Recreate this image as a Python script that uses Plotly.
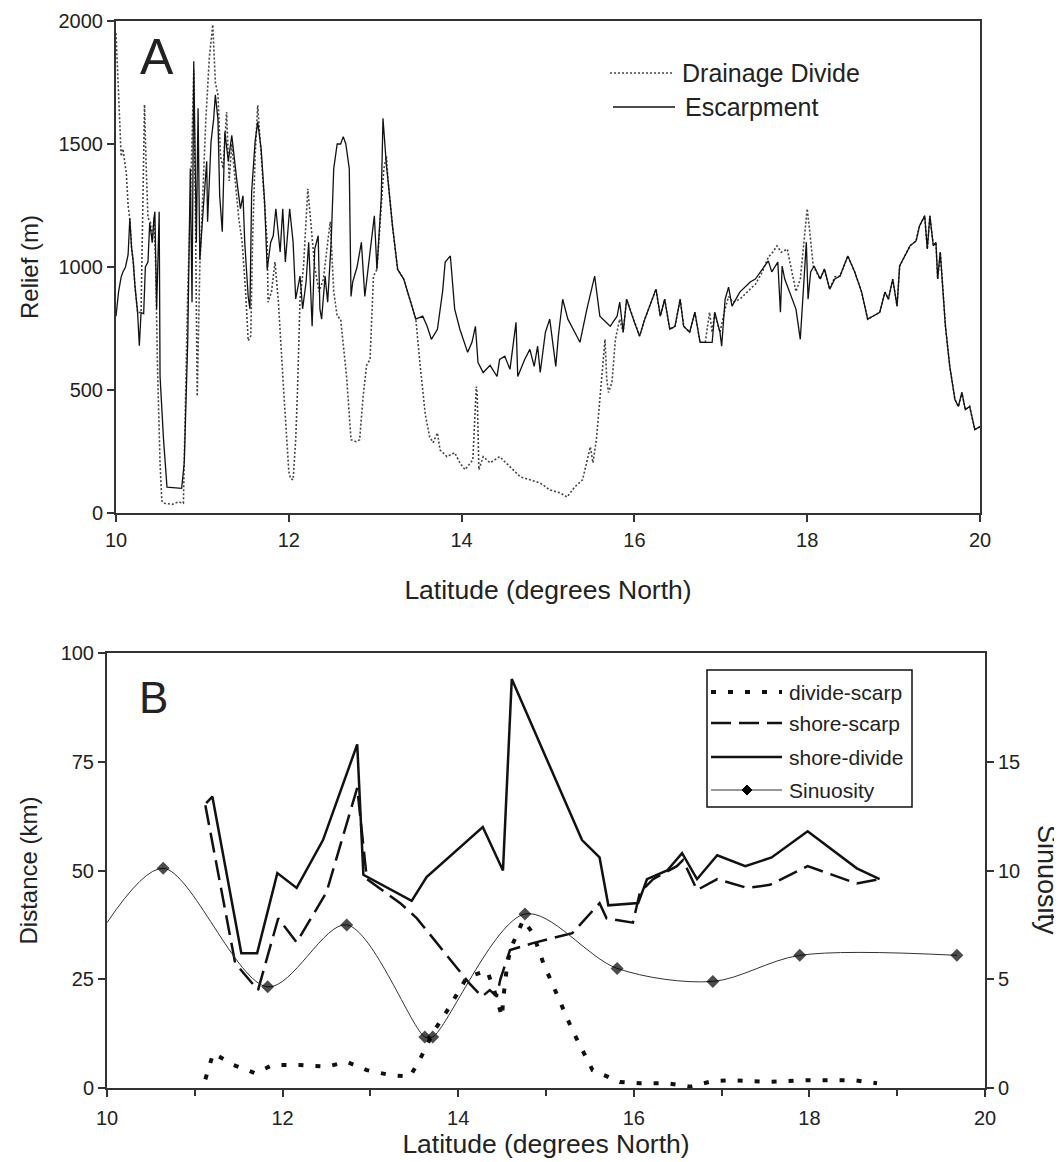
import plotly.graph_objects as go

# ---------------- Panel A data (latitude, relief in m) ----------------
esc_lat = [10.00, 10.03, 10.06, 10.08, 10.11, 10.14, 10.16, 10.18, 10.20, 10.22, 10.25, 10.27, 10.29, 10.32,
           10.34, 10.37, 10.39, 10.41, 10.42, 10.44, 10.45, 10.47, 10.49, 10.50, 10.51, 10.55, 10.59, 10.70,
           10.76, 10.79, 10.83, 10.86, 10.88, 10.90, 10.93, 10.95, 10.97, 11.01, 11.05, 11.06, 11.10, 11.13,
           11.15, 11.18, 11.20, 11.23, 11.26, 11.30, 11.34, 11.40, 11.44, 11.47, 11.49, 11.53, 11.55, 11.57,
           11.61, 11.64, 11.68, 11.72, 11.75, 11.79, 11.82, 11.85, 11.90, 11.93, 11.96, 12.01, 12.05, 12.08,
           12.13, 12.16, 12.20, 12.23, 12.27, 12.30, 12.34, 12.36, 12.38, 12.42, 12.45, 12.49, 12.52, 12.56,
           12.60, 12.63, 12.66, 12.70, 12.72, 12.74, 12.79, 12.84, 12.88, 12.92, 12.99, 13.02, 13.07, 13.09,
           13.11, 13.13, 13.15, 13.20, 13.26, 13.33, 13.40, 13.47, 13.55, 13.60, 13.65, 13.72, 13.78, 13.81,
           13.87, 13.92, 13.98, 14.07, 14.12, 14.16, 14.19, 14.25, 14.33, 14.41, 14.44, 14.50, 14.56, 14.63,
           14.65, 14.73, 14.79, 14.84, 14.88, 14.91, 14.97, 15.02, 15.09, 15.12, 15.17, 15.23, 15.31, 15.37,
           15.45, 15.54, 15.60, 15.67, 15.72, 15.80, 15.83, 15.87, 15.91, 16.00, 16.06, 16.12, 16.25, 16.30,
           16.35, 16.41, 16.47, 16.53, 16.57, 16.64, 16.70, 16.76, 16.82, 16.90, 16.93, 16.99, 17.01, 17.05,
           17.09, 17.13, 17.22, 17.34, 17.40, 17.48, 17.55, 17.59, 17.66, 17.69, 17.71, 17.74, 17.80, 17.87,
           17.92, 17.95, 17.99, 18.01, 18.04, 18.08, 18.15, 18.20, 18.26, 18.32, 18.38, 18.47, 18.55, 18.63,
           18.70, 18.76, 18.84, 18.90, 18.94, 18.99, 19.04, 19.07, 19.13, 19.19, 19.26, 19.30, 19.36, 19.39,
           19.42, 19.46, 19.49, 19.51, 19.54, 19.60, 19.65, 19.71, 19.75, 19.79, 19.83, 19.88, 19.94, 20.00]
esc_relief = [800, 900, 960, 980, 1000, 1050, 1196, 1080, 1020, 920, 815, 680, 815, 810,
              1000, 1020, 1180, 1120, 1100, 1200, 1225, 830, 1150, 1225, 555, 300, 105, 100,
              100, 205, 695, 1400, 857, 1836, 1100, 1645, 1030, 1237, 1430, 1184, 1510, 1600,
              1700, 1600, 1290, 1143, 1550, 1430, 1535, 1347, 1237, 1290, 1100, 880, 830, 1306,
              1510, 1590, 1480, 1265, 990, 1100, 1127, 1237, 1061, 1237, 1020, 1237, 1100, 870,
              963, 830, 939, 1100, 759, 1073, 1127, 830, 788, 963, 857, 1100, 1400, 1500,
              1500, 1530, 1500, 1400, 880, 940, 1000, 1100, 880, 1000, 1208, 990, 1278, 1604,
              1500, 1412, 1347, 1167, 990, 951, 870, 788, 800, 760, 706, 747, 900, 1020,
              1045, 829, 747, 653, 694, 759, 612, 571, 600, 555, 624, 637, 584, 775,
              555, 624, 665, 596, 678, 571, 735, 788, 596, 719, 869, 788, 735, 694,
              829, 963, 800, 775, 759, 800, 857, 735, 869, 775, 719, 788, 910, 800,
              869, 747, 759, 869, 759, 735, 816, 694, 694, 694, 816, 735, 678, 869,
              918, 841, 898, 939, 951, 992, 1025, 980, 1020, 816, 1004, 951, 898, 829,
              706, 869, 1101, 869, 980, 1004, 951, 992, 910, 951, 963, 1045, 980, 898,
              788, 800, 816, 898, 869, 951, 841, 1004, 1045, 1086, 1106, 1167, 1208, 1073,
              1208, 1086, 1100, 951, 1061, 759, 596, 461, 433, 490, 420, 433, 339, 351]

div_lat = [10.00, 10.02, 10.04, 10.06, 10.08, 10.10, 10.12, 10.14, 10.16, 10.18, 10.20, 10.22, 10.25, 10.29,
           10.31, 10.33, 10.35, 10.37, 10.40, 10.42, 10.44, 10.46, 10.48, 10.51, 10.53, 10.55, 10.65, 10.72,
           10.78, 10.81, 10.83, 10.86, 10.88, 10.90, 10.92, 10.94, 10.97, 11.00, 11.04, 11.08, 11.12, 11.15,
           11.18, 11.21, 11.24, 11.28, 11.31, 11.34, 11.38, 11.42, 11.46, 11.50, 11.53, 11.56, 11.58, 11.61,
           11.64, 11.68, 11.72, 11.75, 11.76, 11.80, 11.84, 11.88, 11.94, 12.00, 12.02, 12.05, 12.08, 12.10,
           12.13, 12.17, 12.22, 12.26, 12.30, 12.35, 12.40, 12.45, 12.48, 12.52, 12.56, 12.60, 12.67, 12.72,
           12.78, 12.82, 12.86, 12.90, 12.94, 12.98, 13.02, 13.07, 13.10, 13.13, 13.15, 13.20, 13.26, 13.33,
           13.40, 13.47, 13.52, 13.58, 13.63, 13.67, 13.72, 13.75, 13.83, 13.92, 13.98, 14.04, 14.13, 14.17,
           14.18, 14.20, 14.25, 14.33, 14.44, 14.56, 14.68, 14.79, 14.91, 15.02, 15.14, 15.22, 15.31, 15.40,
           15.49, 15.52, 15.56, 15.60, 15.64, 15.66, 15.68, 15.70, 15.74, 15.78, 15.83, 15.87, 15.91, 16.00,
           16.06, 16.12, 16.25, 16.30, 16.35, 16.41, 16.47, 16.53, 16.57, 16.64, 16.70, 16.76, 16.82, 16.87,
           16.90, 16.93, 16.99, 17.05, 17.09, 17.14, 17.22, 17.34, 17.40, 17.48, 17.55, 17.60, 17.65, 17.70,
           17.77, 17.80, 17.87, 17.92, 17.97, 18.00, 18.03, 18.07, 18.15, 18.20, 18.26, 18.32, 18.38, 18.47,
           18.55, 18.63, 18.70, 18.76, 18.84, 18.90, 18.94, 18.99, 19.04, 19.07, 19.13, 19.19, 19.26, 19.30,
           19.36, 19.39, 19.42, 19.46, 19.49, 19.51, 19.54, 19.60, 19.65, 19.71, 19.75, 19.79, 19.83, 19.88,
           19.94, 20.00]
div_relief = [1950, 1800, 1600, 1450, 1480, 1420, 1380, 1250, 1196, 1080, 1020, 920, 815, 815,
              1200, 1660, 1400, 1200, 1180, 1100, 1200, 1000, 600, 200, 50, 40, 35, 45,
              40, 555, 898, 1237, 1500, 1800, 1200, 475, 1000, 1250, 1600, 1850, 1985, 1750,
              1700, 1450, 1400, 1630, 1350, 1500, 1350, 1200, 1100, 900, 700, 720, 1100, 1450,
              1657, 1450, 1250, 1100, 857, 900, 1020, 857, 500, 170, 140, 135, 300, 490,
              869, 1000, 1318, 1150, 1000, 900, 950, 1100, 1184, 900, 800, 788, 550, 298,
              290, 298, 473, 600, 624, 963, 990, 1250, 1400, 1450, 1347, 1167, 990, 951,
              870, 788, 600, 400, 310, 286, 326, 257, 229, 245, 204, 176, 216, 514,
              490, 176, 229, 204, 229, 188, 147, 135, 122, 94, 82, 65, 106, 135,
              269, 204, 298, 461, 650, 706, 543, 490, 530, 706, 788, 735, 869, 775,
              719, 788, 910, 800, 869, 747, 759, 869, 759, 735, 816, 694, 694, 816,
              734, 816, 735, 830, 880, 857, 869, 910, 930, 980, 1040, 1060, 1086, 1060,
              1073, 1020, 900, 950, 1150, 1237, 1143, 1004, 951, 992, 910, 960, 963, 1045,
              980, 898, 788, 800, 816, 898, 869, 951, 841, 1004, 1045, 1086, 1106, 1167,
              1208, 1073, 1208, 1086, 1100, 951, 1061, 759, 596, 461, 433, 490, 420, 433,
              339, 351]

# ---------------- Panel B data ----------------
sd_lat = [11.13, 11.20, 11.53, 11.71, 11.94, 12.16, 12.46, 12.85, 12.92, 13.47, 13.64, 14.28, 14.51, 14.61,
          15.41, 15.61, 15.71, 16.05, 16.15, 16.38, 16.55, 16.72, 16.95, 17.27, 17.57, 17.98, 18.54, 18.80]
sd_km = [65.5, 67, 31, 31, 49.4, 46, 57, 79, 49, 43, 48.5, 60, 50, 94,
         57, 53, 42, 42.5, 48, 50, 54, 48, 53.5, 51, 53, 59, 50.5, 48]

ss_lat = [11.12, 11.46, 11.72, 11.95, 12.16, 12.50, 12.85, 12.96, 13.34, 13.53, 14.13, 14.27, 14.36, 14.44,
          14.48, 14.59, 14.85, 15.30, 15.61, 15.69, 15.99, 16.07, 16.22, 16.49, 16.56, 16.72, 16.95, 17.29,
          17.55, 17.98, 18.54, 18.80]
ss_km = [65, 28.7, 22.5, 39, 33.5, 45, 69, 48, 42.5, 39, 24, 21, 22.5, 21,
         25, 31.7, 33.3, 35.6, 42.5, 39, 38, 45, 48, 51, 52.4, 45.5, 48, 46,
         46.7, 51, 47, 48]

ds_lat = [11.12, 11.21, 11.44, 11.69, 11.89, 12.20, 12.50, 12.73, 12.96, 13.22, 13.45, 13.56, 13.71, 13.90,
          14.10, 14.33, 14.42, 14.50, 14.51, 14.55, 14.59, 14.74, 14.85, 14.97, 15.30, 15.53, 15.84, 16.07,
          16.38, 16.64, 16.90, 17.13, 17.52, 17.97, 18.50, 18.77]
ds_km = [2, 8, 5.3, 3.4, 5.3, 5.3, 4.9, 6, 4.1, 3, 2.6, 6.4, 12.6, 18.6,
         25.5, 27, 21.8, 16.3, 20, 27, 31.7, 38.6, 35.6, 28.7, 13.3, 4.1, 1.4, 1.1,
         1.1, 0.3, 1.6, 1.8, 1.4, 1.8, 1.8, 1.1]

sin_lat = [10.00, 10.64, 11.83, 12.73, 13.62, 13.71, 14.76, 15.81, 16.90, 17.89, 19.68]
sin_val = [7.6, 10.1, 4.65, 7.5, 2.35, 2.35, 8.0, 5.5, 4.9, 6.1, 6.1]

# ---------------- layout helpers (screen pixel -> paper) ----------------
OFF = 8                      # page body margin of the browser
W, H = 1062 - OFF, 1162 - OFF
ML, MT = 107 - OFF, 21 - OFF
MR, MB = W - (985 - OFF), H - (1088 - OFF)
PW = W - ML - MR
PH = H - MT - MB


def px(x):
    return (x - OFF - ML) / PW


def py(y):
    return (H - MB - (y - OFF)) / PH


FONT = "Arial, Liberation Sans, sans-serif"
INK = "#222222"
AX = "#333333"
DIV_LINE = dict(color="#444444", width=1.6, dash="2px,2px")
ESC_LINE = dict(color="#111111", width=1.3)

fig = go.Figure()

# Panel A
fig.add_trace(go.Scatter(x=div_lat, y=div_relief, mode="lines", xaxis="x", yaxis="y",
                         line=DIV_LINE, name="Drainage Divide", showlegend=False))
fig.add_trace(go.Scatter(x=esc_lat, y=esc_relief, mode="lines", xaxis="x", yaxis="y",
                         line=ESC_LINE, name="Escarpment", showlegend=False))

# Panel B
DS_LINE = dict(color="#111111", width=4, dash="5px,12px")
SS_LINE = dict(color="#111111", width=2.5, dash="20px,8px")
SD_LINE = dict(color="#111111", width=2.5)
SIN_LINE = dict(color="#333333", width=1)

fig.add_trace(go.Scatter(x=sin_lat, y=sin_val, mode="lines+markers", xaxis="x2", yaxis="y3",
                         line=dict(SIN_LINE, shape="spline", smoothing=0.9),
                         marker=dict(symbol="diamond", size=[0] + [10] * (len(sin_lat) - 1), color="#000000",
                                     line=dict(width=0)),
                         name="Sinuosity", showlegend=False))
fig.add_trace(go.Scatter(x=ds_lat, y=ds_km, mode="lines", xaxis="x2", yaxis="y2",
                         line=DS_LINE, name="divide-scarp", showlegend=False))
fig.add_trace(go.Scatter(x=ss_lat, y=ss_km, mode="lines", xaxis="x2", yaxis="y2",
                         line=SS_LINE, name="shore-scarp", showlegend=False))
fig.add_trace(go.Scatter(x=sd_lat, y=sd_km, mode="lines", xaxis="x2", yaxis="y2",
                         line=SD_LINE, name="shore-divide", showlegend=False))

axis_common = dict(showgrid=False, zeroline=False, showline=True, linecolor=AX, linewidth=2,
                   automargin=False,
                   ticks="outside", tickcolor=AX, tickwidth=1.5, ticklen=7,
                   tickfont=dict(family=FONT, size=20, color=INK),
                   title_font=dict(family=FONT, size=24, color=INK))
xtitle_font = dict(family=FONT, size=26.5, color=INK)

fig.update_layout(
    width=W, height=H,
    margin=dict(l=ML, r=MR, t=MT, b=MB, autoexpand=False),
    paper_bgcolor="white", plot_bgcolor="white",
    showlegend=False,
    font=dict(family=FONT, color=INK),
    xaxis=dict(axis_common, domain=[px(116), px(980)], anchor="y", range=[10, 20],
               tickvals=[10, 12, 14, 16, 18, 20], mirror=True, ticklabelstandoff=1,
               title=dict(text="Latitude (degrees North)", standoff=30, font=xtitle_font)),
    yaxis=dict(axis_common, domain=[py(513), py(21)], anchor="x", range=[0, 2000],
               tickvals=[0, 500, 1000, 1500, 2000], mirror=True,
               title=dict(text="Relief (m)", standoff=13)),
    xaxis2=dict(axis_common, domain=[0, 1], anchor="y2", range=[10, 20],
                tickvals=[10, 12, 14, 16, 18, 20], mirror=True, ticklabelstandoff=4,
                minor=dict(ticks="outside", tickvals=[11, 13, 15, 17, 19], ticklen=6,
                           tickcolor=AX, tickwidth=1.5),
                title=dict(text="Latitude (degrees North)", standoff=2, font=xtitle_font)),
    yaxis2=dict(axis_common, domain=[0, py(653)], anchor="x2", range=[0, 100],
                tickvals=[0, 25, 50, 75, 100],
                title=dict(text="Distance (km)", standoff=16)),
    yaxis3=dict(axis_common, overlaying="y2", side="right", anchor="x2", range=[0, 20],
                tickvals=[0, 5, 10, 15]),
)


def note(x, y, text, size, anchor="left", angle=0):
    fig.add_annotation(x=px(x), y=py(y), xref="paper", yref="paper", text=text, showarrow=False,
                       xanchor=anchor, yanchor="middle", textangle=angle,
                       font=dict(family=FONT, size=size, color=INK))


# Panel letters
note(157, 57, "A", 50, anchor="center")
note(153, 697, "B", 44, anchor="center")

# Right axis title (reads top to bottom)
note(1047, 880, "Sinuosity", 27, anchor="center", angle=90)

# Legend A (hand-drawn key)
fig.add_shape(type="line", xref="paper", yref="paper", x0=px(610), x1=px(672), y0=py(73), y1=py(73),
              line=DIV_LINE)
fig.add_shape(type="line", xref="paper", yref="paper", x0=px(613), x1=px(675), y0=py(107), y1=py(107),
              line=ESC_LINE)
note(680, 73, "Drainage Divide", 25)
note(683, 107, "Escarpment", 25)

# Legend B (boxed key)
fig.add_shape(type="rect", xref="paper", yref="paper", x0=px(707), x1=px(912), y0=py(807), y1=py(670),
              line=dict(color="#111111", width=1.5), fillcolor="white", layer="above")
legB = [("divide-scarp", 692, DS_LINE), ("shore-scarp", 723, SS_LINE),
        ("shore-divide", 757, SD_LINE), ("Sinuosity", 790, SIN_LINE)]
for label, yy, ln in legB:
    fig.add_shape(type="line", xref="paper", yref="paper", x0=px(711), x1=px(782), y0=py(yy), y1=py(yy),
                  line=ln, layer="above")
    note(787, yy, label, 21)
# diamond marker in the Sinuosity key
cx, cy, r = 747, 790, 5
fig.add_shape(type="path", xref="paper", yref="paper",
              path=f"M {px(cx)},{py(cy - r)} L {px(cx + r)},{py(cy)} L {px(cx)},{py(cy + r)} L {px(cx - r)},{py(cy)} Z",
              fillcolor="#000000", line=dict(color="#000000", width=1), layer="above")

fig.write_html("out.html")
